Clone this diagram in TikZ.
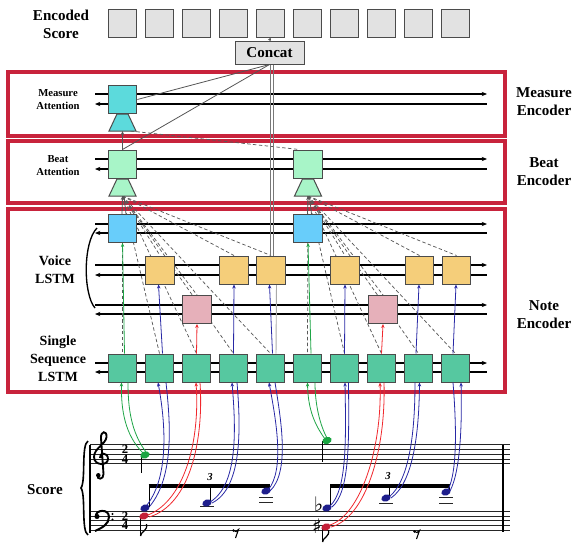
\documentclass[tikz,border=0pt]{standalone}
\usepackage{fontspec}
\setmainfont{Liberation Serif}
\newfontfamily\musfont{DejaVu Sans}
\usetikzlibrary{arrows.meta,calc}
\pgfdeclarelayer{bg}
\pgfsetlayers{bg,main}
\definecolor{frameRed}{RGB}{200,35,60}
\definecolor{boxEdge}{RGB}{75,75,75}
\definecolor{encFill}{RGB}{226,226,226}
\definecolor{measFill}{RGB}{92,218,220}
\definecolor{beatFill}{RGB}{168,245,200}
\definecolor{noteFill}{RGB}{104,205,250}
\definecolor{voiceFill}{RGB}{245,206,122}
\definecolor{pinkFill}{RGB}{230,176,186}
\definecolor{seqFill}{RGB}{86,200,160}
\definecolor{upGreen}{RGB}{30,165,70}
\definecolor{upBlue}{RGB}{40,40,165}
\definecolor{upRed}{RGB}{240,40,45}
\definecolor{headGreen}{RGB}{25,165,65}
\definecolor{headBlue}{RGB}{30,30,140}
\definecolor{headRed}{RGB}{195,30,55}
\definecolor{connGray}{RGB}{85,85,85}
\definecolor{skipGray}{RGB}{120,120,120}
\definecolor{skipLight}{RGB}{170,170,170}
\begin{document}
\begin{tikzpicture}[x=0.75pt,y=-0.75pt,
  cell/.style={draw=boxEdge,line width=0.75pt,minimum width=21.5pt,minimum height=21pt,inner sep=0pt},
  biglab/.style={font=\bfseries\fontsize{11.3}{13.5}\selectfont,align=center,inner sep=0pt},
  midlab/.style={font=\bfseries\fontsize{10.5}{13.5}\selectfont,align=center,inner sep=0pt},
  smalllab/.style={font=\bfseries\fontsize{8}{9.8}\selectfont,align=center,inner sep=0pt},
  encframe/.style={draw=frameRed,line width=2.3pt},
  stream/.style={line width=1.05pt},
  tipR/.style={-{Stealth[length=4pt,width=3.2pt]}},
  tipL/.style={{Stealth[length=4pt,width=3.2pt]}-},
  conn/.style={draw=connGray,line width=0.6pt},
  attn/.style={draw=black!65,line width=0.55pt,dash pattern=on 2.6pt off 1.8pt},
  uparrow/.style={line width=0.6pt,-{Stealth[length=3pt,width=2.6pt]}},
  pairline/.style={line width=0.6pt},
  staffline/.style={line width=0.55pt,draw=black!85},
  stemline/.style={line width=0.7pt},
  timesig/.style={font=\bfseries\fontsize{9.5}{7.2}\selectfont,align=center,inner sep=0pt},
  acc/.style={font=\musfont\fontsize{15}{15}\selectfont,inner sep=0pt},
]
\useasboundingbox (0,0) rectangle (573,543);

% ---------------- nodes ----------------
\foreach \i in {1,...,10} {
  \node[cell,fill=encFill] (e\i) at ({122.5+37*(\i-1)},23) {};
  \node[cell,fill=seqFill] (g\i) at ({122.5+37*(\i-1)},368) {};
}
\node[cell,fill=encFill,minimum width=51.75pt,minimum height=17.25pt,
      font=\bfseries\fontsize{11.3}{13}\selectfont] (concat) at (269.5,52.5) {Concat};
\node[cell,fill=measFill] (m1) at (122.5,99.5) {};
\node[cell,fill=beatFill] (b1) at (122.5,164) {};
\node[cell,fill=beatFill] (b2) at (308,164) {};
\node[cell,fill=noteFill] (n1) at (122.5,228.5) {};
\node[cell,fill=noteFill] (n2) at (308,228.5) {};
\foreach \k/\x in {1/160,2/234,3/271,4/345,5/419.5,6/456.5}
  \node[cell,fill=voiceFill] (o\k) at (\x,270) {};
\node[cell,fill=pinkFill] (p1) at (197,309.5) {};
\node[cell,fill=pinkFill] (p2) at (383,309.5) {};

\coordinate (mt) at (122.5,131);
\coordinate (bt1) at (122.5,196);
\coordinate (bt2) at (308,196);

% attention trapezoids
\filldraw[fill=measFill,draw=boxEdge,line width=0.75pt]
  ($(mt)+(-5.5,-17)$) -- ($(mt)+(5.5,-17)$) -- ($(mt)+(13.5,0)$) -- ($(mt)+(-13.5,0)$) -- cycle;
\foreach \t in {bt1,bt2}
  \filldraw[fill=beatFill,draw=boxEdge,line width=0.75pt]
    ($(\t)+(-5.5,-17)$) -- ($(\t)+(5.5,-17)$) -- ($(\t)+(13.5,0)$) -- ($(\t)+(-13.5,0)$) -- cycle;

% ---------------- background lines ----------------
\begin{pgfonlayer}{bg}
  \draw[encframe] (8,72) rectangle (505,136);
  \draw[encframe] (8,141) rectangle (505,203);
  \draw[encframe] (8,209) rectangle (505,392);
  \foreach \ya/\yb in {94/104,159/169,224/233,265/275,305/314,363/372} {
    \draw[stream,tipR] (95,\ya) -- (487,\ya);
    \draw[stream,tipL] (95,\yb) -- (487,\yb);
  }
  \foreach \t in {g1,g2,g3,g4,g5,o1,o2,o3,p1}
    \draw[attn] (bt1) -- (\t.north);
  \foreach \t in {g6,g7,g8,g9,g10,o4,o5,o6,p2}
    \draw[attn] (bt2) -- (\t.north);
  \draw[attn] ($(mt)+(8,0)$) -- ($(b2.north west)+(6,0)$);
  \draw[conn] (m1.east) -- (concat.south);
  \draw[conn] (b1.north) -- (concat.south);
  \draw[draw=skipGray,line width=0.6pt] ($(concat.south)+(0.5,0)$) -- ($(o3.north)+(-1,0)$);
  \draw[draw=skipGray,line width=0.6pt] ($(concat.south)+(4,0)$) -- ($(o3.north)+(2.5,0)$);
  \draw[draw=skipLight,line width=0.7pt] ($(o3.south)+(5.5,0)$) -- ($(g5.north)+(5.5,0)$);
\end{pgfonlayer}

\draw[conn,-{Stealth[length=3pt,width=2.5pt]}] (b1.north) -- (mt);
\draw[conn,-{Stealth[length=2.5pt,width=2.5pt]}] (concat.north) -- (e5.south);
\draw[conn,-{Stealth[length=3pt,width=2.5pt]}] ($(n1.north)+(-0.5,0)$) -- (bt1);
\draw[conn] ($(n1.north)+(3.5,0)$) -- ($(bt1)+(1.5,0)$);
\draw[conn,-{Stealth[length=3pt,width=2.5pt]}] ($(n2.north)+(-0.5,0)$) -- (bt2);
\draw[conn] ($(n2.north)+(3.5,0)$) -- ($(bt2)+(1.5,0)$);

% up arrows inside note encoder
\draw[upGreen,uparrow] ($(g1.north)+(2,0)$) -- (n1.south);
\draw[upGreen,uparrow] ($(g6.north)+(3.5,0)$) -- (n2.south);
\draw[upBlue,uparrow] ($(g2.north)+(3,0)$) -- ($(o1.south)+(-1.5,0)$);
\draw[upBlue,uparrow] (g4.north) -- (o2.south);
\draw[upBlue,uparrow] ($(g5.north)+(2,0)$) -- ($(o3.south)+(-1.5,0)$);
\draw[upBlue,uparrow] (g7.north) -- (o4.south);
\draw[upBlue,uparrow] ($(g9.north)+(-2.5,0)$) -- ($(o5.south)+(-0.5,0)$);
\draw[upBlue,uparrow] ($(g10.north)+(-2.5,0)$) -- ($(o6.south)+(-0.5,0)$);
\draw[upRed,uparrow] (g3.north) -- (p1.south);
\draw[upRed,uparrow] (g8.north) -- (p2.south);

% ---------------- labels ----------------
\node[biglab] (lenc) at (61,24) {Encoded\\Score};
\node[biglab] (lme) at (544,102) {Measure\\Encoder};
\node[biglab] (lbe) at (544,172) {Beat\\Encoder};
\node[biglab] (lne) at (544,314.5) {Note\\Encoder};
\node[smalllab] (lma) at (58,99.5) {Measure\\Attention};
\node[smalllab] (lba) at (58,165.5) {Beat\\Attention};
\node[midlab] (lvo) at (55,270) {Voice\\LSTM};
\node[midlab] (lss) at (58,359) {Single\\Sequence\\LSTM};
\node[biglab] (lsc) at (45,490) {Score};

% voice bracket
\draw[line width=1pt] (97,228) .. controls (83,242) and (83,294) .. (95,308);

% ---------------- score ----------------
\foreach \y in {444.5,449.3,454.1,458.9,463.7,511,515.9,520.8,525.7,530.6}
  \draw[staffline] (90,\y) -- (510,\y);
\draw[line width=0.9pt] (90,444.5) -- (90,533);
\draw[line width=1.5pt] (502.5,444.5) -- (502.5,532);
\draw[line width=1.2pt] (88,441) .. controls (81,445) and (86,481) .. (81,488)
                                 .. controls (86,495) and (81,531) .. (88,535);
% treble clef
\draw[line width=1.4pt] (98,475) .. controls (96,480) and (104,480) .. (103.5,474)
  -- (101,438) .. controls (100.5,431) and (107,430) .. (106.5,437)
  .. controls (106,444) and (94,448) .. (94,457)
  .. controls (94,466) and (108,466) .. (108,459)
  .. controls (108,452) and (99,452) .. (100,458);
\fill (98.3,475.3) circle [radius=1.7pt];
% bass clef
\fill (97,516.5) circle [radius=1.9pt];
\draw[line width=1.5pt] (96,516) .. controls (95,510) and (109,508) .. (109,517)
  .. controls (109,524) and (102,528) .. (95,531);
\fill (112.5,514) circle [radius=0.9pt];
\fill (112.5,519.5) circle [radius=0.9pt];
% time signatures
\node[timesig] (tsA) at (125,454.1) {2\\4};
\node[timesig] (tsB) at (125,520.8) {2\\4};

% note heads
\coordinate (hG1) at (145,455);
\coordinate (hB1) at (145,508);
\coordinate (hR1) at (144,516);
\coordinate (hB2) at (207,503);
\coordinate (hB3) at (266,491);
\coordinate (hG2) at (327,440.5);
\coordinate (hB4) at (327,508);
\coordinate (hR2) at (326,527);
\coordinate (hB5) at (386,498);
\coordinate (hB6) at (446,492);

% stems, beams, ledger lines
\draw[stemline] (141,455.5) -- (141,473);
\draw[stemline] (322.5,441) -- (322.5,462);
\draw[stemline] (149,507) -- (149,486);
\draw[stemline] (210.5,502) -- (210.5,486);
\draw[stemline] (269.5,490) -- (269.5,486);
\draw[line width=2.4pt] (148.6,486) -- (270,486);
\draw[stemline] (330.5,507) -- (330.5,486);
\draw[stemline] (389.5,497) -- (389.5,486);
\draw[stemline] (449.5,491) -- (449.5,486);
\draw[line width=2.4pt] (330.1,486) -- (450,486);
\draw[stemline] (140.5,517) -- (140.5,536);
\draw[line width=0.9pt] (140.5,536) .. controls (141,531) and (148,531) .. (146.5,524);
\draw[stemline] (322.5,528) -- (322.5,542);
\draw[line width=0.9pt] (322.5,542) .. controls (323,537) and (330,537) .. (328.5,530);
\draw[staffline] (200,506) -- (214,506);
\draw[staffline] (259,497) -- (273,497);
\draw[staffline] (259,502) -- (273,502);
\draw[staffline] (379,503) -- (393,503);
\draw[staffline] (439,497.5) -- (453,497.5);
\draw[staffline] (439,503) -- (453,503);
\node[font=\bfseries\itshape\fontsize{8}{8}\selectfont,inner sep=0pt] (tri1) at (210,477) {3};
\node[font=\bfseries\itshape\fontsize{8}{8}\selectfont,inner sep=0pt] (tri2) at (388,476) {3};
\node[acc] (flat) at (318.5,504) {♭};
\node[acc] (sharp) at (317,526) {♯};
% eighth rests
\fill (233.5,530.5) circle [radius=1pt];
\draw[line width=0.8pt] (233.5,530.5) .. controls (235,532.5) and (237,531.5) .. (238.5,529.5) -- (235.5,538);
\fill (414.5,531.5) circle [radius=1pt];
\draw[line width=0.8pt] (414.5,531.5) .. controls (416,533.5) and (418,532.5) .. (419.5,530.5) -- (416.5,539);

\foreach \h/\c in {hG1/headGreen,hG2/headGreen,hB1/headBlue,hB2/headBlue,hB3/headBlue,hB4/headBlue,hB5/headBlue,hB6/headBlue,hR1/headRed,hR2/headRed}
  \fill[\c] (\h) circle [x radius=3.6pt, y radius=2.6pt, rotate=20];

% connection pairs: score notes -> single-sequence cells
\draw[upGreen,pairline,uparrow] ($(hG1)+(-2,-2)$) .. controls (125,435) and (121,410) .. ($(g1.south)+(-1,0)$);
\draw[upGreen,pairline] ($(hG1)+(1,-3)$) .. controls (131,432) and (128,408) .. ($(g1.south)+(5.5,0)$);
\draw[upBlue,pairline,uparrow] ($(hB1)+(2,-3)$) .. controls (170,475) and (165,420) .. ($(g2.south)+(-1.5,0)$);
\draw[upBlue,pairline] ($(hB1)+(5,-2)$) .. controls (175,475) and (170,420) .. ($(g2.south)+(6.5,0)$);
\draw[upRed,pairline,uparrow] ($(hR1)+(4,-1)$) .. controls (185,500) and (200,440) .. ($(g3.south)+(-0.5,0)$);
\draw[upRed,pairline] ($(hR1)+(5,1)$) .. controls (190,505) and (204,440) .. ($(g3.south)+(3.5,0)$);
\draw[upBlue,pairline,uparrow] ($(hB2)+(3,-1)$) .. controls (238,485) and (236,430) .. ($(g4.south)+(-1.5,0)$);
\draw[upBlue,pairline] ($(hB2)+(5,0)$) .. controls (242,488) and (241,430) .. ($(g4.south)+(3.5,0)$);
\draw[upBlue,pairline,uparrow] ($(hB3)+(2,-1)$) .. controls (285,470) and (276,420) .. ($(g5.south)+(-1.5,0)$);
\draw[upBlue,pairline] ($(hB3)+(4,0)$) .. controls (290,472) and (281,420) .. ($(g5.south)+(4.5,0)$);
\draw[upGreen,pairline,uparrow] ($(hG2)+(-2,-1.5)$) .. controls (315,425) and (308,410) .. ($(g6.south)+(0,0)$);
\draw[upGreen,pairline] ($(hG2)+(0,-2.5)$) .. controls (320,425) and (315,405) .. ($(g6.south)+(7.5,0)$);
\draw[upBlue,pairline,uparrow] ($(hB4)+(3,-2)$) .. controls (347,490) and (346,440) .. ($(g7.south)+(0.5,0)$);
\draw[upBlue,pairline] ($(hB4)+(5,-1)$) .. controls (350,492) and (349,440) .. ($(g7.south)+(4,0)$);
\draw[upRed,pairline,uparrow] ($(hR2)+(4,-2)$) .. controls (360,515) and (382,450) .. ($(g8.south)+(-1.5,0)$);
\draw[upRed,pairline] ($(hR2)+(5,0)$) .. controls (365,518) and (386,452) .. ($(g8.south)+(2.5,0)$);
\draw[upBlue,pairline] ($(hB5)+(3,-1)$) .. controls (410,480) and (415,430) .. ($(g9.south)+(-3.5,0)$);
\draw[upBlue,pairline,uparrow] ($(hB5)+(5,0)$) .. controls (414,482) and (419,430) .. ($(g9.south)+(1,0)$);
\draw[upBlue,pairline] ($(hB6)+(2,-2)$) .. controls (458,470) and (456,420) .. ($(g10.south)+(-2.5,0)$);
\draw[upBlue,pairline,uparrow] ($(hB6)+(4,-1)$) .. controls (461,470) and (462,420) .. ($(g10.south)+(5.5,0)$);
\end{tikzpicture}
\end{document}
